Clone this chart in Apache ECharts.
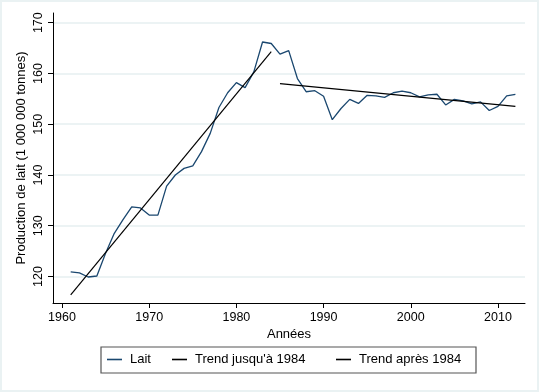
<!DOCTYPE html>
<html>
<head>
<meta charset="utf-8">
<script src="https://cdn.jsdelivr.net/npm/echarts@6/dist/echarts.min.js"></script>
<style>
html,body{margin:0;padding:0;background:#fff;}
#c{width:539px;height:392px;background:#fff;box-shadow:inset 0 0 0 2px #eaf2f3;}
</style>
</head>
<body>
<div id="c"></div>
<script>
const years = [1961,1962,1963,1964,1965,1966,1967,1968,1969,1970,1971,1972,1973,1974,1975,1976,1977,1978,1979,1980,1981,1982,1983,1984,1985,1986,1987,1988,1989,1990,1991,1992,1993,1994,1995,1996,1997,1998,1999,2000,2001,2002,2003,2004,2005,2006,2007,2008,2009,2010,2011,2012];
const lait = [120.9,120.7,119.9,120.1,124.6,128.5,131.2,133.7,133.5,132.1,132.1,137.8,140.0,141.3,141.8,144.6,148.2,153.3,156.2,158.2,157.2,160.3,166.2,165.9,163.8,164.5,159.0,156.4,156.6,155.5,150.9,153.1,154.9,154.1,155.7,155.6,155.3,156.2,156.5,156.2,155.4,155.8,155.9,153.8,154.9,154.6,154.0,154.4,152.7,153.5,155.6,155.9];
const trend1Years = [1961, 1984];
const trend1Values = [116.4, 164.3];
const trend2Years = [1985, 2012];
const trend2Values = [158.0, 153.5];
const xTicks = [1960,1970,1980,1990,2000,2010];
const yTicks = [120,130,140,150,160,170];
const seriesNames = ['Lait', "Trend jusqu'à 1984", 'Trend après 1984'];

const pair = (xs, ys) => xs.map((x, i) => [x, ys[i]]);
const FONT = '"Liberation Sans", Arial, Helvetica, sans-serif';

const chart = echarts.init(document.getElementById('c'), null, {renderer: 'canvas'});
const legendBase = {
  orient: 'horizontal', padding: 0, itemWidth: 15, itemHeight: 1.6, icon: 'rect',
  top: 353, textStyle: {fontFamily: FONT, fontSize: 13, color: '#000', padding: [0,0,0,3]},
  selectedMode: false
};
chart.setOption({
  animation: false,
  grid: {left: 53, right: 14, top: 13, bottom: 89, containLabel: false},
  xAxis: {
    type: 'value', min: 1958.97, max: 2013.1,
    name: 'Années', nameLocation: 'middle', nameGap: 25, nameMoveOverlap: false,
    nameTextStyle: {fontFamily: FONT, fontSize: 13, color: '#000'},
    axisLine: {onZero: false, lineStyle: {color: '#000', width: 1}},
    axisTick: {customValues: xTicks, length: 5, lineStyle: {color: '#000'}},
    axisLabel: {customValues: xTicks, margin: 8, fontFamily: FONT, fontSize: 12.5, color: '#000',
      formatter: v => String(v)},
    splitLine: {show: false}
  },
  yAxis: {
    type: 'value', min: 114.78, max: 171.91,
    name: 'Production de lait (1 000 000 tonnes)', nameLocation: 'middle', nameGap: 25, nameMoveOverlap: false,
    nameTextStyle: {fontFamily: FONT, fontSize: 13, color: '#000'},
    axisLine: {show: true, onZero: false, lineStyle: {color: '#000', width: 1}},
    axisTick: {show: true, customValues: yTicks, length: 5, lineStyle: {color: '#000'}},
    axisLabel: {customValues: yTicks, rotate: 90, margin: 8, fontFamily: FONT, fontSize: 12.5, color: '#000',
      formatter: v => String(v)},
    splitLine: {show: true, lineStyle: {color: '#e6eff1', width: 1.5}}
  },
  legend: [
    Object.assign({}, legendBase, {left: 107, data: [seriesNames[0]]}),
    Object.assign({}, legendBase, {left: 172, data: [seriesNames[1]]}),
    Object.assign({}, legendBase, {left: 336, data: [seriesNames[2]]})
  ],
  graphic: [{
    type: 'rect', shape: {x: 101, y: 347, width: 375, height: 26},
    style: {fill: 'none', stroke: '#555', lineWidth: 1.2}, silent: true
  }],
  series: [
    {name: seriesNames[0], type: 'line', data: pair(years, lait), symbol: 'none',
     lineStyle: {color: '#1a476f', width: 1.3}, itemStyle: {color: '#1a476f'}},
    {name: seriesNames[1], type: 'line', data: pair(trend1Years, trend1Values), symbol: 'none',
     lineStyle: {color: '#000', width: 1.2}, itemStyle: {color: '#000'}},
    {name: seriesNames[2], type: 'line', data: pair(trend2Years, trend2Values), symbol: 'none',
     lineStyle: {color: '#000', width: 1.2}, itemStyle: {color: '#000'}}
  ]
});
</script>
</body>
</html>
